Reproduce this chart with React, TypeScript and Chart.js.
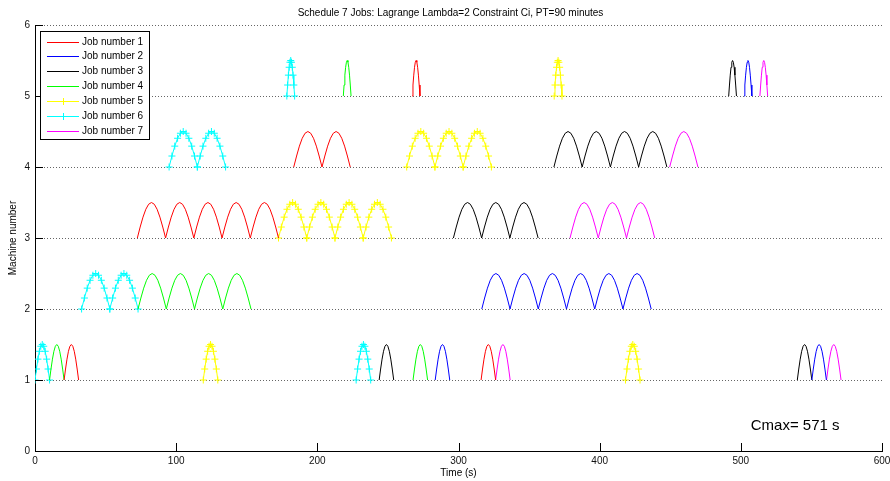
import React, { useEffect, useRef } from "react";
import { Chart, registerables } from "chart.js";

Chart.register(...registerables);

const chartTitle = "Schedule 7 Jobs: Lagrange Lambda=2 Constraint Ci, PT=90 minutes";
const xTitle = "Time (s)";
const yTitle = "Machine number";
const cmaxLabel = "Cmax= 571 s";
const cmaxPos = [507, 0.3];

const jobNames = ["Job number 1", "Job number 2", "Job number 3", "Job number 4", "Job number 5", "Job number 6", "Job number 7"];
const jobColors = ["#ff0000", "#0000ff", "#000000", "#00ff00", "#ffff00", "#00ffff", "#ff00ff"];
const jobMarkers = [false, false, false, false, true, true, false];

const xTicks = [0, 100, 200, 300, 400, 500, 600];
const yTicks = [0, 1, 2, 3, 4, 5, 6];

// operations: [machine, start, end, number of sublots]
const job1Ops = [[1, 20.6, 30.9, 1], [3, 72.5, 172.5, 5], [4, 183.3, 223.3, 2], [5, 267.2, 272.7, 1], [1, 316.0, 326.3, 1]];
const job2Ops = [[1, 283.5, 293.8, 1], [2, 316.5, 436.5, 6], [5, 502.3, 507.8, 1], [1, 550.3, 560.6, 1]];
const job3Ops = [[1, 243.8, 254.1, 1], [3, 296.4, 356.4, 3], [4, 367.6, 447.6, 4], [5, 491.4, 496.9, 1], [1, 540.0, 550.3, 1]];
const job4Ops = [[1, 10.3, 20.6, 1], [2, 73.0, 153.0, 4], [5, 218.4, 223.9, 1], [1, 267.8, 278.1, 1]];
const job5Ops = [[1, 119.2, 129.5, 1], [3, 172.5, 252.5, 4], [4, 263.3, 323.3, 3], [5, 367.8, 373.3, 1], [1, 418.3, 428.6, 1]];
const job6Ops = [[1, 0, 10.3, 1], [2, 33.0, 73.0, 2], [4, 95.0, 135.0, 2], [5, 178.4, 183.9, 1], [1, 227.5, 237.8, 1]];
const job7Ops = [[1, 326.3, 336.6, 1], [3, 379.0, 439.0, 3], [4, 449.6, 469.6, 1], [5, 513.5, 519.0, 1], [1, 560.7, 571.0, 1]];

const allJobs = [job1Ops, job2Ops, job3Ops, job4Ops, job5Ops, job6Ops, job7Ops];

const PTS_PER_LOT = 11;
const FONT = "'Liberation Sans', Arial, Helvetica, sans-serif";

function buildPoints(ops: number[][]) {
  const pts: { x: number; y: number | null }[] = [];
  ops.forEach(([m, s, e, n]) => {
    const w = (e - s) / n;
    for (let l = 0; l < n; l++) {
      const ls = s + l * w;
      for (let k = 0; k < PTS_PER_LOT; k++) {
        const u = k / (PTS_PER_LOT - 1);
        pts.push({ x: ls + u * w, y: m + 0.5 * Math.sin(Math.PI * u) });
      }
    }
    pts.push({ x: e, y: null });
  });
  return pts;
}

const decorPlugin = {
  id: "decor",
  beforeDatasetsDraw(chart: any) {
    const { ctx, chartArea } = chart;
    const ys = chart.scales.y;
    ctx.save();
    ctx.strokeStyle = "#666";
    ctx.lineWidth = 1;
    ctx.setLineDash([1, 2]);
    yTicks.forEach((v) => {
      if (v === 0) return;
      const py = Math.round(ys.getPixelForValue(v)) + 0.5;
      ctx.beginPath();
      ctx.moveTo(chartArea.left, py);
      ctx.lineTo(chartArea.right, py);
      ctx.stroke();
    });
    ctx.restore();
  },
  afterDraw(chart: any) {
    const { ctx, chartArea } = chart;
    const xs = chart.scales.x;
    const ys = chart.scales.y;
    ctx.save();
    // inward ticks
    ctx.strokeStyle = "#000";
    ctx.lineWidth = 1;
    xTicks.forEach((v) => {
      const px = Math.round(xs.getPixelForValue(v)) + 0.5;
      ctx.beginPath();
      ctx.moveTo(px, chartArea.bottom);
      ctx.lineTo(px, chartArea.bottom - 8);
      ctx.stroke();
    });
    yTicks.forEach((v) => {
      const py = Math.round(ys.getPixelForValue(v)) + 0.5;
      ctx.beginPath();
      ctx.moveTo(chartArea.left, py);
      ctx.lineTo(chartArea.left + 8, py);
      ctx.stroke();
    });
    // title
    ctx.fillStyle = "#000";
    ctx.font = `10px ${FONT}`;
    ctx.textAlign = "center";
    ctx.textBaseline = "middle";
    ctx.fillText(chartTitle, (chartArea.left + chartArea.right) / 2 - 8, 13);
    // Cmax
    ctx.font = `15px ${FONT}`;
    ctx.textAlign = "left";
    ctx.textBaseline = "alphabetic";
    ctx.fillText(cmaxLabel, xs.getPixelForValue(cmaxPos[0]), ys.getPixelForValue(cmaxPos[1]));
    // legend
    const bx = chartArea.left + 5;
    const by = chartArea.top + 6;
    const bw = 109;
    const bh = 108;
    ctx.fillStyle = "#fff";
    ctx.fillRect(bx, by, bw, bh);
    ctx.strokeStyle = "#000";
    ctx.strokeRect(bx + 0.5, by + 0.5, bw, bh);
    ctx.font = `10px ${FONT}`;
    ctx.textBaseline = "middle";
    jobNames.forEach((name, i) => {
      const ry = Math.round(by + 10.5 + i * 14.9) + 0.5;
      const lx0 = bx + 7;
      const lx1 = bx + 39;
      ctx.strokeStyle = jobColors[i];
      ctx.beginPath();
      ctx.moveTo(lx0, ry);
      ctx.lineTo(lx1, ry);
      ctx.stroke();
      if (jobMarkers[i]) {
        const cx = Math.round((lx0 + lx1) / 2) + 0.5;
        ctx.beginPath();
        ctx.moveTo(cx, ry - 3.5);
        ctx.lineTo(cx, ry + 3.5);
        ctx.stroke();
      }
      ctx.fillStyle = "#000";
      ctx.fillText(name, bx + 42, ry);
    });
    ctx.restore();
  },
};

export default function App() {
  const ref = useRef<HTMLCanvasElement | null>(null);
  useEffect(() => {
    if (!ref.current) return;
    const datasets = allJobs.map((ops, i) => ({
      label: jobNames[i],
      data: buildPoints(ops),
      borderColor: jobColors[i],
      backgroundColor: jobColors[i],
      borderWidth: 1,
      fill: false,
      tension: 0,
      spanGaps: false,
      pointStyle: "cross",
      pointRadius: jobMarkers[i] ? 3.5 : 0,
      pointBorderColor: jobColors[i],
      pointBorderWidth: 1,
      pointHoverRadius: jobMarkers[i] ? 3.5 : 0,
    }));
    const chart = new Chart(ref.current, {
      type: "line",
      data: { datasets },
      plugins: [decorPlugin],
      options: {
        animation: false,
        responsive: false,
        devicePixelRatio: 1,
        layout: { padding: { top: 25, right: 8, left: 0, bottom: 0 } },
        plugins: {
          legend: { display: false },
          title: { display: false },
          tooltip: { enabled: false },
        },
        events: [],
        scales: {
          x: {
            type: "linear",
            min: 0,
            max: 600,
            afterFit: (s: any) => {
              s.height = 30;
              s.paddingLeft = 0;
              s.paddingRight = 0;
            },
            afterBuildTicks: (s: any) => {
              s.ticks = xTicks.map((v) => ({ value: v }));
            },
            grid: { display: false, drawTicks: false },
            border: { display: true, color: "#000", width: 1 },
            ticks: {
              padding: 4,
              color: "#111",
              font: { family: FONT, size: 10 },
              maxRotation: 0,
              autoSkip: false,
            },
            title: {
              display: true,
              text: xTitle,
              color: "#000",
              font: { family: FONT, size: 10 },
              padding: { top: 0, bottom: 2 },
            },
          },
          y: {
            type: "linear",
            min: 0,
            max: 6,
            afterFit: (s: any) => {
              s.width = 35;
              s.paddingTop = 0;
              s.paddingBottom = 0;
            },
            afterBuildTicks: (s: any) => {
              s.ticks = yTicks.map((v) => ({ value: v }));
            },
            grid: { display: false, drawTicks: false },
            border: { display: true, color: "#000", width: 1 },
            ticks: {
              padding: 5,
              color: "#111",
              font: { family: FONT, size: 10 },
              autoSkip: false,
            },
            title: {
              display: true,
              text: yTitle,
              color: "#000",
              font: { family: FONT, size: 10 },
              padding: { top: 7, bottom: 0 },
            },
          },
        },
      },
    } as any);
    return () => chart.destroy();
  }, []);
  return (
    <div style={{ position: "absolute", left: 0, top: 0, width: 890, height: 481, background: "#fff" }}>
      <canvas ref={ref} width={890} height={481} style={{ display: "block", width: 890, height: 481 }} />
    </div>
  );
}
